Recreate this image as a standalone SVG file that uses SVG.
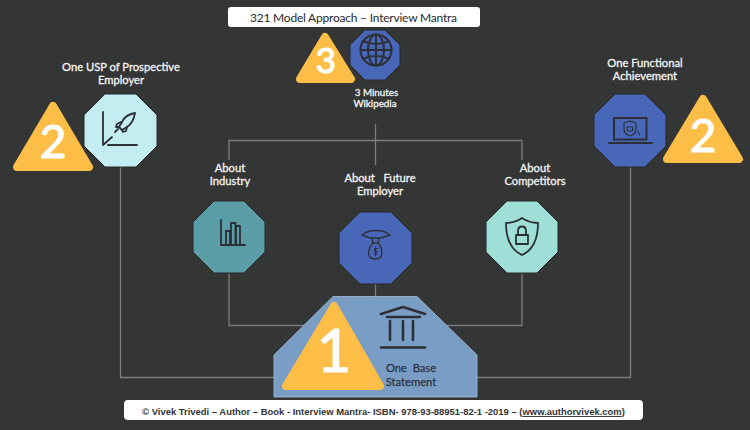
<svg xmlns="http://www.w3.org/2000/svg" width="750" height="430" viewBox="0 0 750 430">
<defs>
<style>
.lbl{font-family:Lato,"Liberation Sans",sans-serif;font-size:11.200px;fill:#f4f4f4;stroke:#f4f4f4;stroke-width:.3px;text-anchor:middle}
.sm{font-size:9.800px}
.con{fill:none;stroke:#7d7d7d;stroke-width:1.300}
.ico{fill:none;stroke:#2c3036;stroke-width:1.800;stroke-linejoin:round;stroke-linecap:round}
.tri{fill:#fdbe47;stroke:#fdbe47;stroke-width:8;stroke-linejoin:round}
.num{font-family:Lato,"Liberation Sans",sans-serif;fill:#fff;stroke:#fff;stroke-width:1.200px;text-anchor:middle}
.oct{stroke:#26282b;stroke-width:1}
.dark{font-family:Lato,"Liberation Sans",sans-serif;font-size:11.200px;fill:#29323d;stroke:#29323d;stroke-width:.25px;text-anchor:middle}
</style>
</defs>
<rect width="750" height="430" fill="#343535"/>
<g id="connectors" class="con">
<path d="M229 160V140.500H522V160"/>
<path d="M375.500 124V165"/>
<path d="M229 273V325.500H310"/>
<path d="M522 273V325.500H445"/>
<path d="M375.500 284V297"/>
<path d="M120.500 167V377.500H275"/>
<path d="M630.500 167V377.500H477"/>
</g>
<g id="node-title">
<rect x="228" y="7" width="252" height="20" rx="3" fill="#fff"/>
<text x="250" y="22" font-family="Lato,'Liberation Sans',sans-serif" font-size="12" fill="#2a2a2a" textLength="207" lengthAdjust="spacing">321 Model Approach – Interview Mantra</text>
</g>
<g id="node-wikipedia">
<path class="tri" d="M325 37L351 79H300Z"/>
<text class="num" x="326" y="72.500" font-size="35">3</text>
<path class="oct" fill="#4867b9" d="M365 30H385L400 45V65L385 80H365L350 65V45Z"/>
<g class="ico" style="stroke-width:2">
<circle cx="376" cy="50" r="15.500"/>
<ellipse cx="376" cy="50" rx="8" ry="15.500"/>
<path d="M376 35V65M363 41C371 45 381 45 389 41M363 59C371 55 381 55 389 59M360.500 50H391.500"/>
</g>
<text class="lbl sm" x="376.500" y="96">3 Minutes</text>
<text class="lbl sm" x="375" y="107">Wikipedia</text>
</g>
<g id="node-usp">
<text class="lbl" x="121" y="71">One USP of Prospective</text>
<text class="lbl" x="121" y="84">Employer</text>
<path class="tri" d="M53 106L89 167H17Z"/>
<text class="num" x="53" y="158" font-size="46">2</text>
<path class="oct" fill="#c3edf0" d="M105 94H136L157 115V146L136 167H105L84 146V115Z"/>
<g class="ico">
<path d="M103 112V145L112 137"/>
<path d="M108 145H137" stroke-dasharray="1.500 1"/>
<path d="M135 113C129 114 124 117 122 122L119 127L122 130L127 127C132 124 134 119 135 113Z"/>
<path d="M121 122L117 124L116 127L119 127M127 127L126 131L123 132L122 130M118 129L115 132"/>
</g>
</g>
<g id="node-achievement">
<text class="lbl" x="645" y="67">One Functional</text>
<text class="lbl" x="645" y="80">Achievement</text>
<path class="oct" fill="#4867b9" d="M615 94H645L666 115V146L645 167H615L594 146V115Z"/>
<g class="ico">
<rect x="614" y="118" width="32.500" height="21.500" style="stroke-width:2"/>
<path d="M609 143H652" style="stroke-width:2"/>
<path d="M630 121L636 123V129C636 133 633 135 630 136C627 135 624 133 624 129V123Z" style="stroke-width:1.200"/>
<rect x="627.500" y="127" width="5" height="4" style="stroke-width:1"/>
<path d="M638 132L640 135" style="stroke-width:1.200"/>
</g>
<path class="tri" d="M703 99L739 159H667Z"/>
<text class="num" x="703" y="152" font-size="46">2</text>
</g>
<g id="node-industry">
<text class="lbl" x="230" y="172">About</text>
<text class="lbl" x="230" y="185">Industry</text>
<path class="oct" fill="#5a9da6" d="M214 201H244L265 222V252L244 273H214L193 252V222Z"/>
<g class="ico">
<path d="M221 220V245H245"/>
<rect x="226" y="231" width="4" height="14"/>
<rect x="231" y="223" width="4.500" height="22"/>
<rect x="236" y="226" width="4" height="19"/>
</g>
</g>
<g id="node-future">
<text class="lbl" x="380" y="182" xml:space="preserve">About   Future</text>
<text class="lbl" x="380" y="195">Employer</text>
<path class="oct" fill="#4867b9" d="M360 212H391L412 233V263L391 284H360L339 263V233Z"/>
<g class="ico" style="stroke-width:1.400">
<path d="M362 235C369 229 383 229 390 235M362 235L370 238H381L390 235M372 238L373 243M379 238L378 243"/>
<path d="M373 243H378C383 248 383 258 378 258.500C375 259 371 259 370 257C367 253 369 247 373 243Z"/>
<path d="M377.500 248.500H374.500V251H377V254H374M375.500 247V255.500" style="stroke-width:1"/>
</g>
</g>
<g id="node-competitors">
<text class="lbl" x="535" y="172">About</text>
<text class="lbl" x="535" y="185">Competitors</text>
<path class="oct" fill="#9fdfd8" d="M507 201H537L558 222V252L537 273H507L486 252V222Z"/>
<g class="ico">
<path d="M522 218C516 222 510 223 506 223C506 240 511 250 522 255C533 250 538 240 538 223C534 223 528 222 522 218Z"/>
<rect x="516" y="235" width="12" height="9"/>
<path d="M518 235V231C518 225 526 225 526 231V235"/>
</g>
</g>
<g id="node-base">
<path fill="#7a9dc6" stroke="#a5bdd8" stroke-width="0.800" d="M333 296.500H417L477 355V397H274V355Z"/>
<path class="tri" d="M334 306L380 386H286Z"/>
<text class="num" x="334" y="372" font-size="60">1</text>
<g class="ico" style="stroke-width:2.600">
<path d="M381 314L403 307L425 314M387 317H420"/>
<path d="M390 321V340M403 321V340M413 321V340M381 347.500H425"/>
</g>
<text class="dark" x="411" y="372" xml:space="preserve">One  Base</text>
<text class="dark" x="411" y="386">Statement</text>
</g>
<g id="node-footer">
<rect x="124" y="400" width="519" height="20" rx="4" fill="#fff"/>
<text x="383.500" y="415" text-anchor="middle" font-family="'Liberation Sans',Arial,sans-serif" font-size="9.450" font-weight="700" fill="#333">© Vivek Trivedi – Author – Book -  Interview Mantra- ISBN- 978-93-88951-82-1 -2019 – (<tspan text-decoration="underline">www.authorvivek.com</tspan>)</text>
</g>
</svg>
